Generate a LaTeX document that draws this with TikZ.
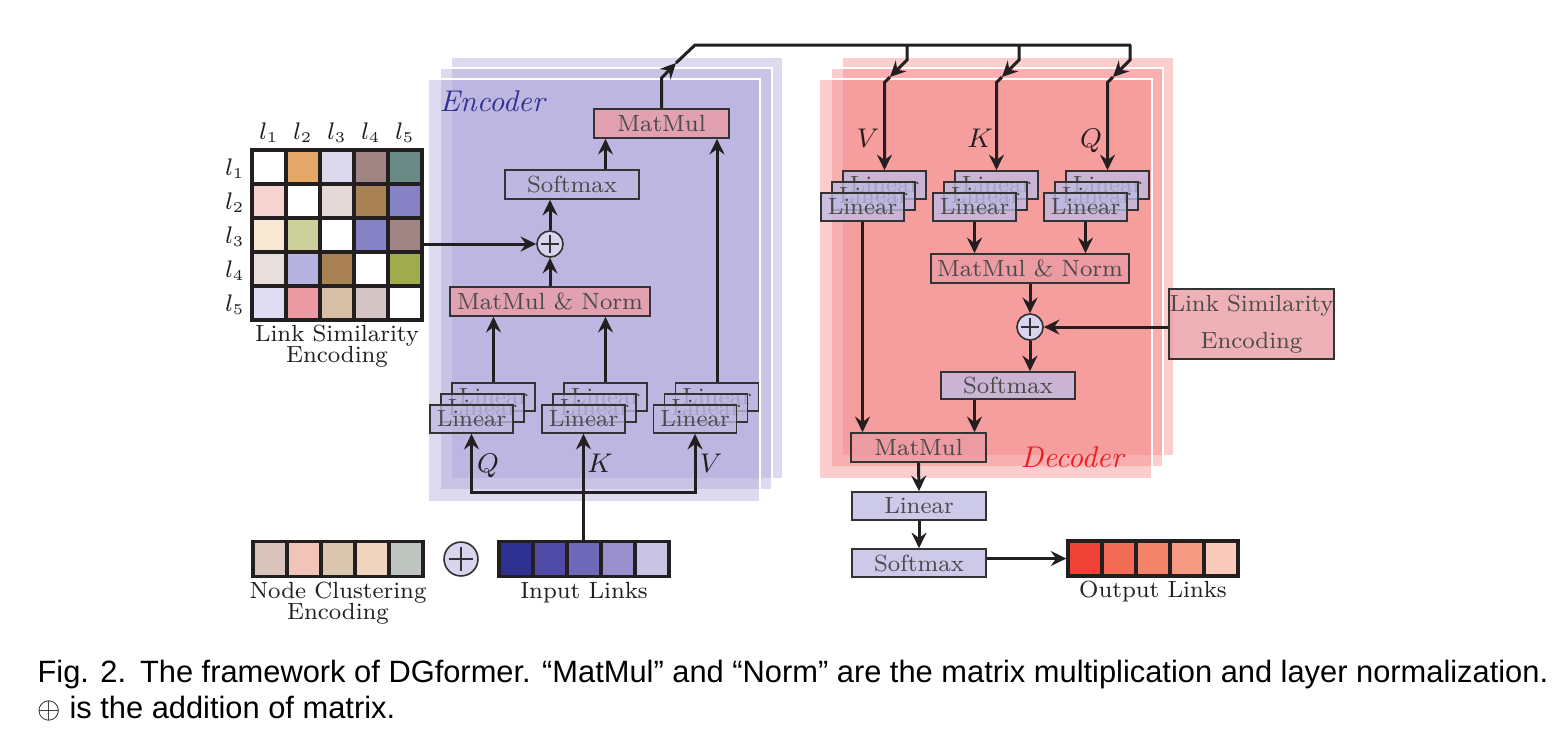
\documentclass[tikz,border=0pt]{standalone}
\usepackage{fontspec}
\newfontfamily\capfont{Liberation Sans}
\usetikzlibrary{arrows.meta,calc}
\definecolor{linec}{HTML}{231F20}
\definecolor{boxline}{HTML}{333333}
\definecolor{boxtext}{HTML}{4A4A4A}
\definecolor{encC}{RGB}{171,162,215}
\definecolor{decC}{RGB}{244,130,130}
\definecolor{pinkC}{RGB}{235,155,164}
\definecolor{lavC}{RGB}{191,186,227}
\definecolor{plusC}{HTML}{D9D5EF}
\definecolor{encT}{HTML}{2E3192}
\definecolor{decT}{HTML}{ED1C24}
% matrix colours
\definecolor{c11}{HTML}{FFFFFF}\definecolor{c12}{HTML}{E3A867}\definecolor{c13}{HTML}{DCD8EE}\definecolor{c14}{HTML}{A08584}\definecolor{c15}{HTML}{6A8A86}
\definecolor{c21}{HTML}{F5D3D0}\definecolor{c22}{HTML}{FFFFFF}\definecolor{c23}{HTML}{E3D8D6}\definecolor{c24}{HTML}{A88252}\definecolor{c25}{HTML}{8583C6}
\definecolor{c31}{HTML}{F8E7D3}\definecolor{c32}{HTML}{CCD09B}\definecolor{c33}{HTML}{FFFFFF}\definecolor{c34}{HTML}{8583C6}\definecolor{c35}{HTML}{A08584}
\definecolor{c41}{HTML}{E8DEDC}\definecolor{c42}{HTML}{B7B3E0}\definecolor{c43}{HTML}{A88252}\definecolor{c44}{HTML}{FFFFFF}\definecolor{c45}{HTML}{A0AD4C}
\definecolor{c51}{HTML}{E0DDF2}\definecolor{c52}{HTML}{EC9AA2}\definecolor{c53}{HTML}{D6BFA4}\definecolor{c54}{HTML}{D6C5C5}\definecolor{c55}{HTML}{FFFFFF}
% vectors
\definecolor{n1}{HTML}{D9C3BC}\definecolor{n2}{HTML}{F0C4B8}\definecolor{n3}{HTML}{DBC6B0}\definecolor{n4}{HTML}{F1D4BE}\definecolor{n5}{HTML}{BEC4C0}
\definecolor{i1}{HTML}{2E3192}\definecolor{i2}{HTML}{4F4AA5}\definecolor{i3}{HTML}{6F68B8}\definecolor{i4}{HTML}{9A90CE}\definecolor{i5}{HTML}{C9C3E6}
\definecolor{o1}{HTML}{EF4136}\definecolor{o2}{HTML}{F26B55}\definecolor{o3}{HTML}{F4836C}\definecolor{o4}{HTML}{F59B84}\definecolor{o5}{HTML}{FACABB}
\newcommand\capstyle{\capfont\fontsize{10.28}{12}\selectfont}
\begin{document}
\begin{tikzpicture}[x=0.33333pt,y=-0.33333pt,
  tip/.tip={Stealth[length=5.2pt,width=5pt,inset=1.8pt]},
  arr/.style={draw=linec,line width=1pt,-tip},
  arrboth/.style={draw=linec,line width=1pt,tip-tip},
  ln/.style={draw=linec,line width=1pt},
  boxbase/.style={rectangle,draw=boxline,line width=0.55pt,fill opacity=0.78,draw opacity=1,text opacity=1,
    inner sep=0pt,font=\fontsize{7.8}{9}\selectfont,text=boxtext},
  pbox/.style={boxbase,fill=pinkC},
  lbox/.style={boxbase,fill=lavC},
  linbox/.style={lbox,minimum width=27.7pt,minimum height=9.33pt},
  oplus/.style={circle,draw=boxline,line width=0.55pt,fill=plusC,inner sep=0pt},
  cell/.style={rectangle,draw=linec,line width=1.1pt,inner sep=0pt,minimum width=11.33pt,minimum height=11.33pt},
  vcell/.style={rectangle,draw=linec,line width=1.1pt,inner sep=0pt,minimum width=11.33pt,minimum height=11.67pt},
  lbl/.style={font=\fontsize{7.8}{9}\selectfont,text=linec,inner sep=0pt,anchor=base},
  qkv/.style={font=\fontsize{9}{10}\selectfont,text=linec,inner sep=0pt,anchor=base},
  elayer/.style={fill=encC,fill opacity=0.4,draw=white,draw opacity=1,line width=0.4pt},
  dlayer/.style={fill=decC,fill opacity=0.4,draw=white,draw opacity=1,line width=0.4pt}
]
\useasboundingbox (0,0) rectangle (1564,737);

% ---------- encoder / decoder layers ----------
\path[elayer] (451,57) rectangle (783,479);
\path[elayer] (440,68) rectangle (772,490);
\path[elayer] (428,79) rectangle (760,502);
\path[dlayer] (842,57) rectangle (1174,456);
\path[dlayer] (831,68) rectangle (1163,467);
\path[dlayer] (819,79) rectangle (1152,479);

\node[font=\fontsize{10}{12}\selectfont\itshape,text=encT,anchor=base west,inner sep=0pt] (enclbl) at (439,111) {Encoder};
\node[font=\fontsize{10}{12}\selectfont\itshape,text=decT,anchor=base west,inner sep=0pt] (declbl) at (1020,467) {Decoder};

% ---------- matrix ----------
\foreach \r in {1,...,5}{
  \foreach \c in {1,...,5}{
    \node[cell,fill=c\r\c] (m\r\c) at ({252+34*\c-17},{150+34*\r-17}) {};
  }
  \node[lbl] (cl\r) at ({252+34*\r-17},139) {$l_{\r}$};
  \node[lbl] (rl\r) at (235,{150+34*\r-9}) {$l_{\r}$};
}
\node[lbl] (lse1) at (337,341) {Link Similarity};
\node[lbl] (lse2) at (337,362) {Encoding};

% ---------- encoder blocks ----------
\node[pbox,minimum width=45pt,minimum height=9.67pt] (ematmul) at (661.5,123.5) {MatMul};
\node[lbox,minimum width=44.7pt,minimum height=9.67pt] (esoft) at (572,184.5) {Softmax};
\node[oplus,minimum size=8.7pt] (eplus) at (550,244) {};
\node[pbox,minimum width=66.7pt,minimum height=9.67pt] (emmn) at (550,301.5) {MatMul \& Norm};
\foreach \n/\x in {q/471.5,k/583.5,v/695}{
  \node[linbox] (e\n3) at ({\x+22},397) {Linear};
  \node[linbox] (e\n2) at ({\x+11},408) {Linear};
  \node[linbox] (e\n1) at (\x,419) {Linear};
}

% ---------- decoder blocks ----------
\foreach \n/\x in {v/862.5,k/974.5,q/1085.5}{
  \node[linbox] (d\n3) at ({\x+22},185) {Linear};
  \node[linbox] (d\n2) at ({\x+11},196) {Linear};
  \node[linbox] (d\n1) at (\x,207) {Linear};
}
\node[pbox,minimum width=66pt,minimum height=9.67pt] (dmmn) at (1030,268.5) {MatMul \& Norm};
\node[oplus,minimum size=8.7pt] (dplus) at (1030,327) {};
\node[lbox,minimum width=44.7pt,minimum height=9pt] (dsoft) at (1008,385.5) {Softmax};
\node[pbox,minimum width=45pt,minimum height=9.67pt] (dmatmul) at (918.5,447.5) {MatMul};
\node[pbox,minimum width=55pt,minimum height=23.3pt,align=center,font=\fontsize{7.8}{12.3}\selectfont] (lsbox) at (1251.5,324) {Link Similarity\\Encoding};
\node[lbox,minimum width=44.7pt,minimum height=9.33pt] (dlin) at (919,506) {Linear};
\node[lbox,minimum width=44.7pt,minimum height=9.33pt] (dsoft2) at (919,563) {Softmax};

% ---------- vectors ----------
\foreach \k in {1,...,5}{
  \node[vcell,fill=n\k] (nc\k) at ({253+34*\k-17},559) {};
  \node[vcell,fill=i\k] (in\k) at ({499+34*\k-17},559) {};
  \node[vcell,fill=o\k] (out\k) at ({1068+34*\k-17},558.5) {};
}
\node[oplus,minimum size=11.3pt] (bplus) at (461,559) {};
\node[lbl] (nce1) at (338,598) {Node Clustering};
\node[lbl] (nce2) at (338,619) {Encoding};
\node[lbl] (inl) at (584,598) {Input Links};
\node[lbl] (outl) at (1153,597) {Output Links};

% plus signs
\draw[boxline,line width=0.4pt] ($(eplus.center)+(-9,0)$) -- ($(eplus.center)+(9,0)$);
\draw[boxline,line width=0.4pt] ($(eplus.center)+(0,-9)$) -- ($(eplus.center)+(0,9)$);
\draw[boxline,line width=0.4pt] ($(dplus.center)+(-9,0)$) -- ($(dplus.center)+(9,0)$);
\draw[boxline,line width=0.4pt] ($(dplus.center)+(0,-9)$) -- ($(dplus.center)+(0,9)$);
\draw[boxline,line width=0.45pt] ($(bplus.center)+(-12,0)$) -- ($(bplus.center)+(12,0)$);
\draw[boxline,line width=0.45pt] ($(bplus.center)+(0,-12)$) -- ($(bplus.center)+(0,12)$);

% ---------- encoder connectors ----------
\coordinate (hy) at (0,492);
\draw[arr] (in3.north -| ek1.south) -- (ek1.south);
\draw[arrboth] (eq1.south) -- (eq1.south |- hy) -- (ev1.south |- hy) -- (ev1.south);
\draw[arr] (eq3.north) -- (eq3.north |- emmn.south);
\draw[arr] (ek3.north) -- (ek3.north |- emmn.south);
\draw[arr] (ev3.north) -- (ev3.north |- ematmul.south);
\draw[arr] (emmn.north) -- (eplus.south);
\draw[arr] (eplus.north) -- (eplus.north |- esoft.south);
\draw[arr] (esoft.north -| ek3.north) -- (ematmul.south -| ek3.north);
\draw[arr] (m35.east |- eplus.west) -- (eplus.west);

% ---------- top bridge ----------
\coordinate (t1) at (661.5,78);
\coordinate (t2) at (676,63);
\coordinate (t3) at (695,45);
\coordinate (bQ) at (1131,45);
\draw[arr] (ematmul.north) -- (t1) -- (t2);
\draw[ln] (t2) -- (t3) -- (bQ);
\foreach \n/\X in {v/907,k/1019,q/1130}{
  \coordinate (\n A) at (\X,45);
  \coordinate (\n B) at (\X,60);
  \coordinate (\n C) at ({\X-17},77);
  \coordinate (\n D) at ({\X-22.5},82.5);
  \draw[arr] (\n A) -- (\n B) -- (\n C);
  \draw[arr] (\n C) -- (\n D) -- (d\n3.north);
}

% ---------- decoder connectors ----------
\draw[arr] (dv1.south) -- (dv1.south |- dmatmul.north);
\draw[arr] (dk1.south) -- (dk1.south |- dmmn.north);
\draw[arr] (dq1.south) -- (dq1.south |- dmmn.north);
\draw[arr] (dmmn.south) -- (dplus.north);
\draw[arr] (dplus.south) -- (dplus.south |- dsoft.north);
\draw[arr] (dsoft.south -| dk1.south) -- (dk1.south |- dmatmul.north);
\draw[arr] (lsbox.west |- dplus.east) -- (dplus.east);
\draw[arr] (dmatmul.south) -- (dlin.north);
\draw[arr] (dlin.south) -- (dsoft2.north);
\draw[arr] (dsoft2.east |- out1.west) -- (out1.west);

% ---------- Q K V labels ----------
\node[qkv] (eQ) at (488,472) {$Q$};
\node[qkv] (eK) at (600,472) {$K$};
\node[qkv] (eV) at (711,472) {$V$};
\node[qkv] (dV) at (868,147) {$V$};
\node[qkv] (dK) at (980,147) {$K$};
\node[qkv] (dQ) at (1091,147) {$Q$};

% ---------- caption ----------
\node[anchor=base west,inner sep=0pt] (cap1) at (37,682) {\capstyle Fig. 2.\hspace{0.45em}The framework of DGformer. “MatMul” and “Norm” are the matrix multiplication and layer normalization.};
\node[anchor=base west,inner sep=0pt] (cap2) at (37,718) {\capstyle $\oplus$ is the addition of matrix.};
\end{tikzpicture}
\end{document}
